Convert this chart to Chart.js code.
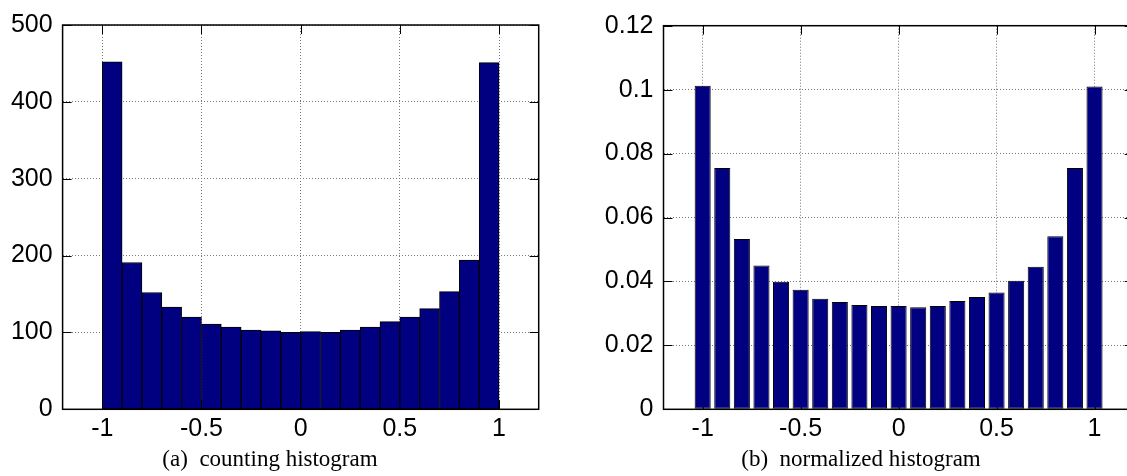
<!DOCTYPE html>
<html>
<head>
<meta charset="utf-8">
<script src="https://cdn.jsdelivr.net/npm/chart.js@4/dist/chart.umd.min.js"></script>
<style>
  html, body { margin: 0; padding: 0; background: #fff; overflow: hidden; width: 1127px; height: 476px; }
  canvas { position: absolute; top: 0; }
  #countChart { left: 0; }
  #normChart { left: 563px; }
  .caption {
    position: absolute; top: 447px; line-height: 24px; text-align: center;
    font-family: "Liberation Serif", "Times New Roman", serif; font-size: 23px; color: #000;
    white-space: pre;
  }
</style>
</head>
<body>
<canvas id="countChart" width="560" height="476"></canvas>
<canvas id="normChart" width="600" height="476"></canvas>
<div class="caption" style="left:0;width:540px">(a)  counting histogram</div>
<div class="caption" style="left:561px;width:600px">(b)  normalized histogram</div>
<script>
// bin centres and heights of the counting histogram (bin width 0.1)
const countCenters = [-0.95, -0.85, -0.75, -0.65, -0.55, -0.45, -0.35, -0.25, -0.15, -0.05,
                      0.05, 0.15, 0.25, 0.35, 0.45, 0.55, 0.65, 0.75, 0.85, 0.95];
const countValues = [452, 191, 152, 133, 120, 111, 107, 103, 102, 100,
                     101, 100, 103, 107, 114, 120, 131, 153, 194, 451];

// normalized histogram, one bar per sample point
const normCenters = [-1, -0.9, -0.8, -0.7, -0.6, -0.5, -0.4, -0.3, -0.2, -0.1, 0,
                     0.1, 0.2, 0.3, 0.4, 0.5, 0.6, 0.7, 0.8, 0.9, 1];
const normValues = [0.1012, 0.0755, 0.0533, 0.0450, 0.0399, 0.0374, 0.0346, 0.0336, 0.0326, 0.0323, 0.0323,
                    0.0319, 0.0323, 0.0339, 0.0351, 0.0365, 0.0402, 0.0446, 0.0541, 0.0755, 0.1010];

const xTicks = [-1, -0.5, 0, 0.5, 1];
const countTicks = [0, 100, 200, 300, 400, 500];
const normTicks = [0, 0.02, 0.04, 0.06, 0.08, 0.1, 0.12];

const NAVY = '#000080';
const tickFont = { family: '"Liberation Sans", Arial, sans-serif', size: 25 };

// gnuplot-like frame with inward tick marks on all four sides
const framePlugin = {
  id: 'frame',
  beforeDatasetsDraw(chart) {
    const { ctx, chartArea: a, scales } = chart;
    const len = 9;
    ctx.save();
    ctx.strokeStyle = '#000';
    ctx.lineWidth = 1;
    ctx.beginPath();
    scales.x.ticks.forEach(t => {
      const px = Math.round(scales.x.getPixelForValue(t.value)) + 0.5;
      ctx.moveTo(px, a.top); ctx.lineTo(px, a.top + len);
      ctx.moveTo(px, a.bottom); ctx.lineTo(px, a.bottom - len);
    });
    scales.y.ticks.forEach(t => {
      const py = Math.round(scales.y.getPixelForValue(t.value)) + 0.5;
      ctx.moveTo(a.left, py); ctx.lineTo(a.left + len, py);
      ctx.moveTo(a.right, py); ctx.lineTo(a.right - len, py);
    });
    ctx.stroke();
    ctx.restore();
  },
  afterDatasetsDraw(chart) {
    const { ctx, chartArea: a } = chart;
    ctx.save();
    ctx.strokeStyle = '#000';
    ctx.lineWidth = 1.5;
    ctx.strokeRect(a.left, a.top, a.right - a.left, a.bottom - a.top);
    ctx.restore();
  }
};

function makeChart(id, centers, values, yTicks, yMax, opts) {
  const points = centers.map((c, i) => ({ x: c, y: values[i] }));
  return new Chart(document.getElementById(id), {
    type: 'bar',
    data: {
      datasets: [{
        data: points,
        backgroundColor: NAVY,
        borderColor: '#000',
        borderWidth: 1,
        borderSkipped: false,
        barPercentage: opts.barPercentage,
        categoryPercentage: 1
      }]
    },
    options: {
      responsive: false,
      animation: false,
      events: [],
      layout: { padding: { left: 0, top: opts.top, right: opts.right, bottom: 0 } },
      plugins: { legend: { display: false }, tooltip: { enabled: false } },
      scales: {
        x: {
          type: 'linear',
          min: -1.2,
          max: 1.2,
          offset: false,
          afterBuildTicks: s => { s.ticks = xTicks.map(v => ({ value: v })); },
          afterFit: s => { s.height = 476 - opts.bottom; },
          ticks: { font: tickFont, color: '#000', padding: 5, maxRotation: 0, autoSkip: false,
                   callback: v => String(v) },
          grid: { color: '#777', lineWidth: 1, drawTicks: false, offset: false },
          border: { display: false, dash: [1, 2] }
        },
        y: {
          type: 'linear',
          min: 0,
          max: yMax,
          afterBuildTicks: s => { s.ticks = yTicks.map(v => ({ value: v })); },
          afterFit: s => { s.width = opts.left; },
          ticks: { font: tickFont, color: '#000', padding: 10, callback: v => String(v) },
          grid: { color: '#777', lineWidth: 1, drawTicks: false },
          border: { display: false, dash: [1, 2] }
        }
      }
    },
    plugins: [framePlugin]
  });
}

makeChart('countChart', countCenters, countValues, countTicks, 500,
  { left: 62.6, top: 21, right: 560 - 538.7, bottom: 409.3, barPercentage: 1 });
makeChart('normChart', normCenters, normValues, normTicks, 0.12,
  { left: 100.5, top: 25.7, right: 600 - 570.7, bottom: 409.3, barPercentage: 0.82 });
</script>
</body>
</html>
